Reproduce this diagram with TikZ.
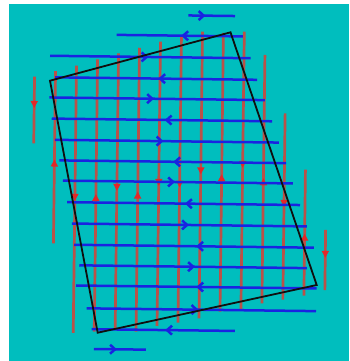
\documentclass[tikz,border=0pt]{standalone}
\usetikzlibrary{arrows.meta,decorations.markings}
\definecolor{bgcyan}{RGB}{0,190,190}
\definecolor{fieldblue}{RGB}{25,35,225}
\definecolor{fieldred}{RGB}{185,82,72}
\definecolor{tipred}{RGB}{225,40,40}
\definecolor{loopblack}{RGB}{15,15,15}
\begin{document}
\begin{tikzpicture}[x=1pt,y=-1pt,
  blueline/.style={draw=fieldblue, line width=2.5pt},
  redline/.style={draw=fieldred, line width=2.7pt},
  loopline/.style={draw=loopblack, line width=1.8pt, line join=miter}]
\useasboundingbox (0,0) rectangle (349,361);
\fill[white] (0,0) rectangle (349,361);
\fill[bgcyan] (9,4) rectangle (349,361);
\begin{scope}[rotate around={-0.7:(175,180)}]
% red field lines: x / start y / end y / arrow tip y (drawn in arrow direction)
\foreach \x/\ya/\yb/\yt in {
  33.3/78.4/145.0/109.7, 75.1/66.9/334.2/202, 117.0/54/329/191.5,
  158.8/41.9/326.2/186, 179.7/36.6/322.6/187.5, 200.7/31.4/318/174,
  242.5/30.9/309.2/167, 284.3/112/298.3/205.5, 326.2/228/288.2/256,
  54.2/244.8/72.5/161, 96.1/332.7/60.3/195, 137.9/332.1/48.2/192,
  221.6/311.1/32.4/173.7, 263.4/302.2/53.9/177.2, 305.3/294/168.1/232}{
  \pgfmathsetmacro\pos{abs(\yt-\ya)}
  \draw[redline, postaction={decorate}, decoration={markings,
    mark=at position \pos pt with {\arrow{Triangle[length=7pt,width=7pt,color=tipred]}}}]
    (\x,\ya) -- (\x,\yb);
}
% blue field lines: y / start x / end x / arrow tip x (drawn in arrow direction)
\foreach \y/\xa/\xb/\xt in {
  15.3/186.3/233.0/203.5, 57.3/48.5/249.2/147, 99.0/48.3/264.0/153,
  141.3/54.5/278.5/163, 182.0/63/293/175, 224.8/72.5/307.5/189.5,
  266.5/80.3/308/196, 309.4/88.3/317.6/200, 350.0/96/148/119,
  35.6/241.2/114.9/179.5, 78.8/255.8/53.8/157, 120.1/271.3/51/164,
  161.8/285.8/59.1/173, 203.5/300.3/67.3/185.3, 246.0/314.8/74.8/197,
  286.7/318/77.3/197.6, 330.2/236.8/93.5/167}{
  \pgfmathsetmacro\pos{abs(\xt-\xa)}
  \draw[blueline, postaction={decorate}, decoration={markings,
    mark=at position \pos pt with {\arrow{Straight Barb[length=5pt,width=9pt,color=fieldblue]}}}]
    (\xa,\y) -- (\xb,\y);
}
\end{scope}
% the loop
\coordinate (tl) at (50,80.7);
\coordinate (tr) at (230.5,32.3);
\coordinate (br) at (316.7,285);
\coordinate (bl) at (97.7,332.7);
\draw[loopline] (tl) -- (tr) -- (br) -- (bl) -- cycle;
\end{tikzpicture}
\end{document}
